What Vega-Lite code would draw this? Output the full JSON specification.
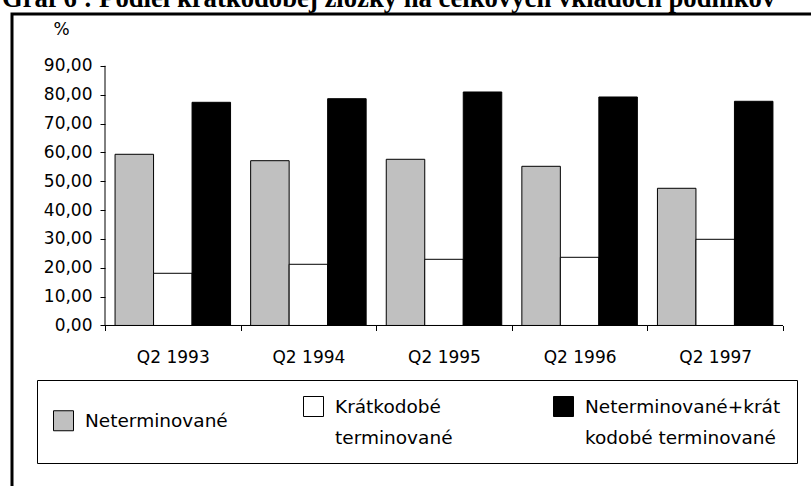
{
  "$schema": "https://vega.github.io/schema/vega-lite/v6.json",
  "width": 829,
  "height": 476,
  "autosize": {"type": "none"},
  "padding": {"left": 12, "top": 14, "right": -30, "bottom": -4},
  "background": "white",
  "title": {
    "text": "Graf 6 : Podiel krátkodobej zložky na celkových vkladoch podnikov",
    "anchor": "start",
    "frame": "group",
    "offset": -19.5,
    "font": "Liberation Serif",
    "fontSize": 26.7,
    "fontWeight": "bold",
    "color": "black",
    "baseline": "alphabetic",
    "dx": -10
  },
  "data": {
    "values": [
      {"q": "Q2 1993", "s": "Neterminované", "v": 59.33},
      {"q": "Q2 1993", "s": "Krátkodobé terminované", "v": 18.09},
      {"q": "Q2 1993", "s": "Neterminované+krátkodobé terminované", "v": 77.35},
      {"q": "Q2 1994", "s": "Neterminované", "v": 57.11},
      {"q": "Q2 1994", "s": "Krátkodobé terminované", "v": 21.21},
      {"q": "Q2 1994", "s": "Neterminované+krátkodobé terminované", "v": 78.6},
      {"q": "Q2 1995", "s": "Neterminované", "v": 57.6},
      {"q": "Q2 1995", "s": "Krátkodobé terminované", "v": 22.94},
      {"q": "Q2 1995", "s": "Neterminované+krátkodobé terminované", "v": 80.92},
      {"q": "Q2 1996", "s": "Neterminované", "v": 55.17},
      {"q": "Q2 1996", "s": "Krátkodobé terminované", "v": 23.63},
      {"q": "Q2 1996", "s": "Neterminované+krátkodobé terminované", "v": 79.19},
      {"q": "Q2 1997", "s": "Neterminované", "v": 47.55},
      {"q": "Q2 1997", "s": "Krátkodobé terminované", "v": 29.87},
      {"q": "Q2 1997", "s": "Neterminované+krátkodobé terminované", "v": 77.7}
    ]
  },
  "layer": [
    {
      "mark": {"type": "bar", "stroke": "black", "strokeWidth": 1},
      "encoding": {
        "x": {
          "field": "q",
          "type": "nominal",
          "sort": null,
          "scale": {"paddingInner": 0, "paddingOuter": 0.5568, "align": 0.6159},
          "axis": {
            "title": null,
            "offset": -164.5,
            "domain": false,
            "grid": false,
            "tickBand": "extent",
            "tickSize": 5,
            "tickColor": "black",
            "labelAngle": 0,
            "labelFont": "DejaVu Sans",
            "labelFontSize": 17,
            "labelColor": "black",
            "labelPadding": 19
          }
        },
        "xOffset": {
          "field": "s",
          "type": "nominal",
          "sort": ["Neterminované", "Krátkodobé terminované", "Neterminované+krátkodobé terminované"],
          "scale": {"paddingInner": 0, "paddingOuter": 0.261}
        },
        "y": {
          "field": "v",
          "type": "quantitative",
          "scale": {"domain": [-57.01, 107.95], "nice": false, "zero": false},
          "axis": {
            "title": "%",
            "titleAngle": 0,
            "titleX": -44,
            "titleY": 15,
            "titleAlign": "center",
            "titleBaseline": "middle",
            "titleFont": "DejaVu Sans",
            "titleFontSize": 17,
            "titleFontWeight": "normal",
            "titleColor": "black",
            "offset": -93,
            "domain": false,
            "grid": false,
            "values": [0, 10, 20, 30, 40, 50, 60, 70, 80, 90],
            "labelExpr": "replace(format(datum.value, '.2f'), '.', ',')",
            "labelFont": "DejaVu Sans",
            "labelFontSize": 17,
            "labelColor": "black",
            "labelPadding": 8,
            "tickSize": 5,
            "tickColor": "black"
          }
        },
        "color": {
          "field": "s",
          "type": "nominal",
          "sort": ["Neterminované", "Krátkodobé terminované", "Neterminované+krátkodobé terminované"],
          "scale": {
            "domain": ["Neterminované", "Krátkodobé terminované", "Neterminované+krátkodobé terminované"],
            "range": ["#c0c0c0", "#ffffff", "#000000"]
          },
          "legend": {
            "title": null,
            "orient": "none",
            "legendX": 25,
            "legendY": 366,
            "direction": "horizontal",
            "columns": 3,
            "gridAlign": "all",
            "columnPadding": 20,
            "padding": 16,
            "strokeColor": "black",
            "fillColor": "white",
            "symbolType": "square",
            "symbolSize": 400,
            "symbolStrokeColor": "black",
            "symbolStrokeWidth": 1,
            "symbolOpacity": 1,
            "labelFont": "DejaVu Sans",
            "labelFontSize": 18.5,
            "labelColor": "black",
            "labelOffset": 11,
            "labelLimit": 400,
            "labelBaseline": "middle",
            "labelExpr": "datum.label === 'Krátkodobé terminované' ? ['Krátkodobé', 'terminované'] : datum.label === 'Neterminované+krátkodobé terminované' ? ['Neterminované+krát', 'kodobé terminované'] : datum.label",
            "encode": {"labels": {"update": {"lineHeight": {"value": 31}}}}
          }
        }
      }
    },
    {
      "transform": [{"filter": "datum.s === 'Neterminované'"}],
      "mark": {"type": "bar", "width": {"band": 1}, "fillOpacity": 0, "stroke": "black", "strokeWidth": 1},
      "encoding": {
        "x": {"field": "q", "type": "nominal", "sort": null},
        "y": {"datum": 0},
        "y2": {"datum": 0}
      }
    },
    {
      "data": {"values": [{}]},
      "mark": {"type": "rule", "color": "black", "strokeWidth": 1},
      "encoding": {
        "x": {"datum": "Q2 1993", "bandPosition": 0},
        "y": {"datum": 0},
        "y2": {"datum": 90}
      }
    }
  ],
  "config": {
    "view": {"stroke": "black", "strokeWidth": 3},
    "font": "DejaVu Sans"
  }
}
